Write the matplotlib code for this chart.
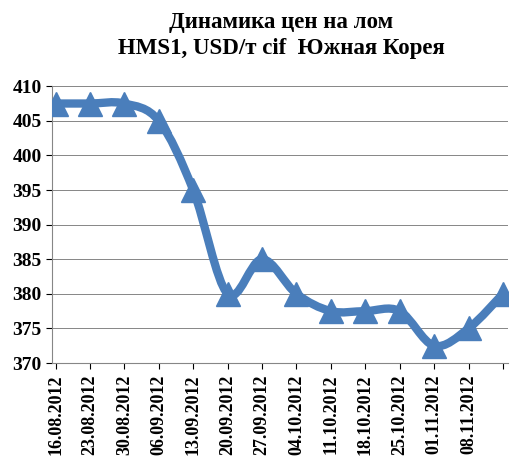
import numpy as np
import matplotlib

matplotlib.use("Agg")
import matplotlib.pyplot as plt
from matplotlib.path import Path
from matplotlib.patches import PathPatch

# данные
dates = ["16.08.2012", "23.08.2012", "30.08.2012", "06.09.2012", "13.09.2012",
         "20.09.2012", "27.09.2012", "04.10.2012", "11.10.2012", "18.10.2012",
         "25.10.2012", "01.11.2012", "08.11.2012", ""]
prices = [407.5, 407.5, 407.5, 405, 395, 380, 385, 380, 377.5, 377.5,
          377.5, 372.5, 375, 380]

plt.rcParams["font.family"] = ["Liberation Serif", "DejaVu Serif"]
plt.rcParams["font.weight"] = "bold"

fig = plt.figure(figsize=(5.26, 4.66), dpi=100)
ax = fig.add_axes([0.099, 0.221, 0.867, 0.594])

x = np.arange(len(prices))
y = np.array(prices, dtype=float)

# сглаженная линия (кривые Безье, как в Excel)
verts = [(x[0], y[0])]
codes = [Path.MOVETO]
t = 0.5 / 3
for i in range(len(x) - 1):
    p0 = (x[max(i - 1, 0)], y[max(i - 1, 0)])
    p1 = (x[i], y[i])
    p2 = (x[i + 1], y[i + 1])
    p3 = (x[min(i + 2, len(x) - 1)], y[min(i + 2, len(x) - 1)])
    c1 = (p1[0] + (p2[0] - p0[0]) * t, p1[1] + (p2[1] - p0[1]) * t)
    c2 = (p2[0] - (p3[0] - p1[0]) * t, p2[1] - (p3[1] - p1[1]) * t)
    verts += [c1, c2, p2]
    codes += [Path.CURVE4] * 3
color = "#4a7ebb"
ax.add_patch(PathPatch(Path(verts, codes), fill=False, edgecolor=color,
                       lw=6, capstyle="round", joinstyle="round", zorder=3))
ax.plot(x, y, linestyle="none", marker="^", markersize=17, color=color, zorder=4)

ax.set_xlim(-0.1, 13.15)
ax.set_ylim(370, 410)
ax.set_yticks(np.arange(370, 411, 5))
ax.set_xticks(x)
ax.set_xticklabels(dates, rotation=90, fontsize=13, fontweight="bold")
ax.tick_params(axis="y", labelsize=14, length=4)
ax.tick_params(axis="x", length=4, pad=4)
ax.grid(axis="y", color="#868686", lw=0.7)
ax.set_axisbelow(True)
for s in ["top", "right"]:
    ax.spines[s].set_visible(False)
ax.spines["left"].set_color("#868686")
ax.spines["bottom"].set_color("#868686")

fig.text(0.535, 0.952, "Динамика цен на лом", ha="center", va="center",
         fontsize=16.5, fontweight="bold")
fig.text(0.535, 0.895, "HMS1, USD/т cif  Южная Корея", ha="center", va="center",
         fontsize=16.5, fontweight="bold")

fig.savefig("out.png", dpi=100)
